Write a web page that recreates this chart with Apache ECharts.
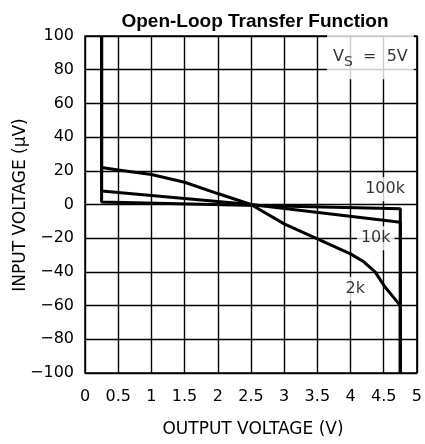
<!DOCTYPE html>
<html>
<head>
<meta charset="utf-8">
<script src="https://cdn.jsdelivr.net/npm/echarts@6/dist/echarts.min.js"></script>
<style>html,body{margin:0;padding:0;background:#fff}#c{width:425px;height:444px}</style>
</head>
<body>
<div id="c"></div>
<script>
const titleText = 'Open-Loop Transfer Function';
const xName = 'OUTPUT VOLTAGE (V)';
const yName = 'INPUT VOLTAGE (\u03bcV)';
const xTicks = [0, 0.5, 1, 1.5, 2, 2.5, 3, 3.5, 4, 4.5, 5];
const yTicks = [-100, -80, -60, -40, -20, 0, 20, 40, 60, 80, 100];

const x100k = [0.25, 0.25, 4.75, 4.75];
const y100k = [100, 1.5, -2.5, -100];
const x10k = [0.25, 0.25, 2.5, 4.75, 4.75];
const y10k = [100, 8, 0, -10.5, -100];
const x2k = [0.25, 0.25, 0.5, 1.0, 1.5, 2.0, 2.5, 3.0, 3.5, 4.0, 4.2, 4.37, 4.52, 4.75, 4.75];
const y2k = [100, 22, 20.5, 17.8, 13.2, 6.5, 0, -11.5, -20.4, -29.3, -34, -40, -49, -60, -100];

const curveLabels = ['100k', '10k', '2k'];
const curveLabelX = [4.52, 4.38, 4.07];
const curveLabelY = [9, -20, -50];
const supplyLabelX = 4.3;
const supplyLabelY = 88;

const chart = echarts.init(document.getElementById('c'), null, {renderer: 'canvas'});
const zip = (xs, ys) => xs.map((x, i) => [x, ys[i]]);
const lineStyle = {color: '#000', width: 3};
const axisFont = {color: '#000', fontFamily: 'DejaVu Sans', fontSize: 16};

chart.setOption({
  animation: false,
  backgroundColor: '#fff',
  title: {
    text: titleText, left: 250, top: 7, textAlign: 'center',
    textStyle: {fontFamily: 'Liberation Sans', fontWeight: 'bold', fontSize: 19, color: '#000'}
  },
  grid: {left: 85, right: 5, top: 36, bottom: 71, show: true, borderColor: '#000', borderWidth: 1.5},
  xAxis: {
    type: 'value', min: 0, max: 5, interval: 0.5,
    axisLine: {show: false}, axisTick: {show: false},
    axisLabel: Object.assign({margin: 16, formatter: v => String(v)}, axisFont),
    splitLine: {show: true, lineStyle: {color: '#000', width: 1.4}}
  },
  yAxis: {
    type: 'value', min: -100, max: 100, interval: 20,
    axisLine: {show: false}, axisTick: {show: false},
    axisLabel: Object.assign({margin: 11, formatter: v => String(v).replace('-', '\u2212')}, axisFont),
    splitLine: {show: true, lineStyle: {color: '#000', width: 1.4}}
  },
  graphic: [
    {type: 'text', x: 253, y: 430, style: {text: xName, fontFamily: 'DejaVu Sans', fontSize: 17, fill: '#000', textAlign: 'center', textVerticalAlign: 'middle'}},
    {type: 'text', x: 21, y: 205, rotation: Math.PI / 2, style: {text: yName, fontFamily: 'DejaVu Sans', fontSize: 17, fill: '#000', textAlign: 'center', textVerticalAlign: 'middle'}}
  ],
  series: [
    {type: 'line', data: zip(x100k, y100k), symbol: 'none', lineStyle: lineStyle, z: 3},
    {type: 'line', data: zip(x10k, y10k), symbol: 'none', lineStyle: lineStyle, z: 3},
    {type: 'line', data: zip(x2k, y2k), symbol: 'none', lineStyle: lineStyle, z: 3},
    {
      type: 'scatter', symbolSize: 0, z: 5,
      data: curveLabels.map((t, i) => ({value: [curveLabelX[i], curveLabelY[i]], name: t})),
      label: {show: true, position: 'inside', formatter: p => p.name, color: '#000',
        fontFamily: 'DejaVu Sans', fontSize: 16, backgroundColor: '#fff', padding: [4, 4]}
    },
    {
      type: 'scatter', symbolSize: 0, z: 5,
      data: [{value: [supplyLabelX, supplyLabelY], name: 'vs'}],
      label: {show: true, position: 'inside', color: '#000',
        formatter: '{v|V}{s|S}{v|  =  5V}',
        backgroundColor: '#fff', padding: [12, 6, 10, 6],
        rich: {
          v: {fontFamily: 'DejaVu Sans', fontSize: 16, color: '#000'},
          s: {fontFamily: 'DejaVu Sans', fontSize: 14, color: '#000', verticalAlign: 'bottom', padding: [10, 0, 0, 0]}
        }}
    }
  ]
});
</script>
</body>
</html>
